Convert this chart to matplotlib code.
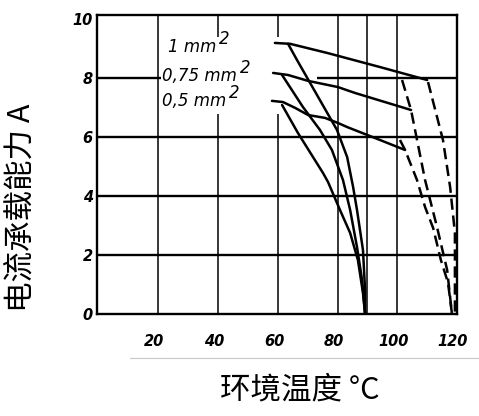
import matplotlib.pyplot as plt
from matplotlib.patches import Rectangle
from matplotlib.lines import Line2D
from matplotlib.transforms import ScaledTranslation

# wire sizes and the curves for each (ambient temperature in degC, current in A)
sizes = ["1 mm", "0,75 mm", "0,5 mm"]

# gently falling solid curves
t_flat_1 = [59.0, 64.1, 76.5, 94.2, 110.0]
a_flat_1 = [9.20, 9.17, 8.86, 8.38, 7.94]
t_flat_075 = [58.4, 63.4, 70.1, 80.1, 85.8, 104.6]
a_flat_075 = [8.18, 8.11, 7.91, 7.70, 7.50, 6.92]
t_flat_05 = [58.0, 61.7, 65.8, 70.1, 75.8, 80.1, 83.2, 94.2, 102.6]
a_flat_05 = [7.23, 7.19, 6.99, 6.75, 6.65, 6.48, 6.34, 5.90, 5.56]

# steep solid curves running down to 0 A near 90 degC
t_steep_1 = [63.4, 66.4, 79.8, 83.2, 85.2, 86.5, 88.5, 89.2, 89.2]
a_steep_1 = [9.17, 8.62, 6.24, 5.32, 4.30, 3.52, 2.16, 0.80, 0.0]
t_steep_075 = [61.4, 68.4, 74.1, 78.1, 81.8, 84.2, 86.5, 88.2, 89.2]
a_steep_075 = [8.11, 7.02, 6.24, 5.56, 4.54, 3.52, 2.26, 1.14, 0.0]
t_steep_05 = [61.4, 66.7, 75.1, 76.8, 80.8, 84.2, 86.8, 88.5, 89.2]
a_steep_05 = [7.09, 6.14, 4.78, 4.47, 3.52, 2.74, 1.82, 0.70, 0.0]

# dashed curves running down to 0 A near 120 degC
t_dash_1 = [110.3, 115.3, 117.7, 119.3, 119.3]
a_dash_1 = [7.87, 5.90, 4.30, 2.74, 0.0]
t_dash_075 = [101.6, 104.6, 109.3, 113.3, 116.7, 118.3]
a_dash_075 = [7.94, 6.92, 4.54, 2.94, 1.48, 0.0]
t_dash_05 = [100.9, 102.6, 106.6, 109.3, 112.0, 114.6, 117.0, 118.3]
a_dash_05 = [5.90, 5.56, 4.54, 3.62, 2.91, 1.82, 1.04, 0.0]

x_ticks = [20, 40, 60, 80, 100, 120]
y_ticks = [0, 2, 4, 6, 8, 10]
x_grid = [20, 40, 60, 80, 90, 100]
y_grid = [2, 4, 6, 8]

plt.rcParams['font.family'] = ['DejaVu Sans']
cjk = ['Noto Sans CJK SC', 'DejaVu Sans']

fig = plt.figure(figsize=(4.79, 4.16), dpi=100)
ax = fig.add_axes([97 / 479, 102.5 / 416, 360 / 479, 298.5 / 416])
ax.set_xlim(-0.6, 120)
ax.set_ylim(0, 10.15)

for x in x_grid:
    ax.axvline(x, color='black', lw=1.1, zorder=1)
for y in y_grid:
    ax.axhline(y, color='black', lw=1.7, zorder=1)

# blank patch behind the size labels
ax.add_patch(Rectangle((20.7, 6.8), 52.3, 2.6, facecolor='white',
                       edgecolor='none', zorder=1.5))

lw = 1.8
for t, a in [(t_flat_1, a_flat_1), (t_flat_075, a_flat_075), (t_flat_05, a_flat_05),
             (t_steep_1, a_steep_1), (t_steep_075, a_steep_075), (t_steep_05, a_steep_05)]:
    ax.plot(t, a, color='black', lw=lw, solid_capstyle='round', zorder=3)
for t, a in [(t_dash_1, a_dash_1), (t_dash_075, a_dash_075), (t_dash_05, a_dash_05)]:
    ax.plot(t, a, color='black', lw=lw, dashes=(4.5, 2.3), zorder=3)

# size labels with a raised "2"
label_pos = [(23.2, 9.06), (21.2, 8.08), (21.2, 7.23)]
for s, (lx, ly) in zip(sizes, label_pos):
    t = ax.text(lx, ly, s, fontsize=12, style='italic', ha='left', va='center', zorder=4)
    ax.annotate("2", xy=(1.0, 1.0), xycoords=t, xytext=(2, -1),
                textcoords='offset points', fontsize=12, style='italic',
                ha='left', va='center', zorder=4)

ax.set_xticks(x_ticks)
ax.set_yticks(y_ticks)
ax.tick_params(length=0)
ax.tick_params(axis='x', pad=15)
ax.tick_params(axis='y', pad=3)
for lab in ax.get_xticklabels() + ax.get_yticklabels():
    lab.set_fontsize(10.5)
    lab.set_fontweight('bold')
    lab.set_fontstyle('italic')
shift = ScaledTranslation(-4 / 100, 0, fig.dpi_scale_trans)
for lab in ax.get_xticklabels():
    lab.set_transform(lab.get_transform() + shift)

for sp in ax.spines.values():
    sp.set_linewidth(1.7)
    sp.set_zorder(5)

fig.add_artist(Line2D([130 / 479, 1.0], [1 - 358 / 416, 1 - 358 / 416],
                      color='#c8c8c8', lw=0.8))

fig.text(22 / 479, 1 - 208 / 416, "电流承载能力 A", rotation=90, ha='center',
         va='center', fontsize=22, family=cjk)
fig.text(300 / 479, 1 - 390 / 416, "环境温度 °C", ha='center', va='center',
         fontsize=22, family=cjk)

fig.savefig('out.png', dpi=100, facecolor='white')
